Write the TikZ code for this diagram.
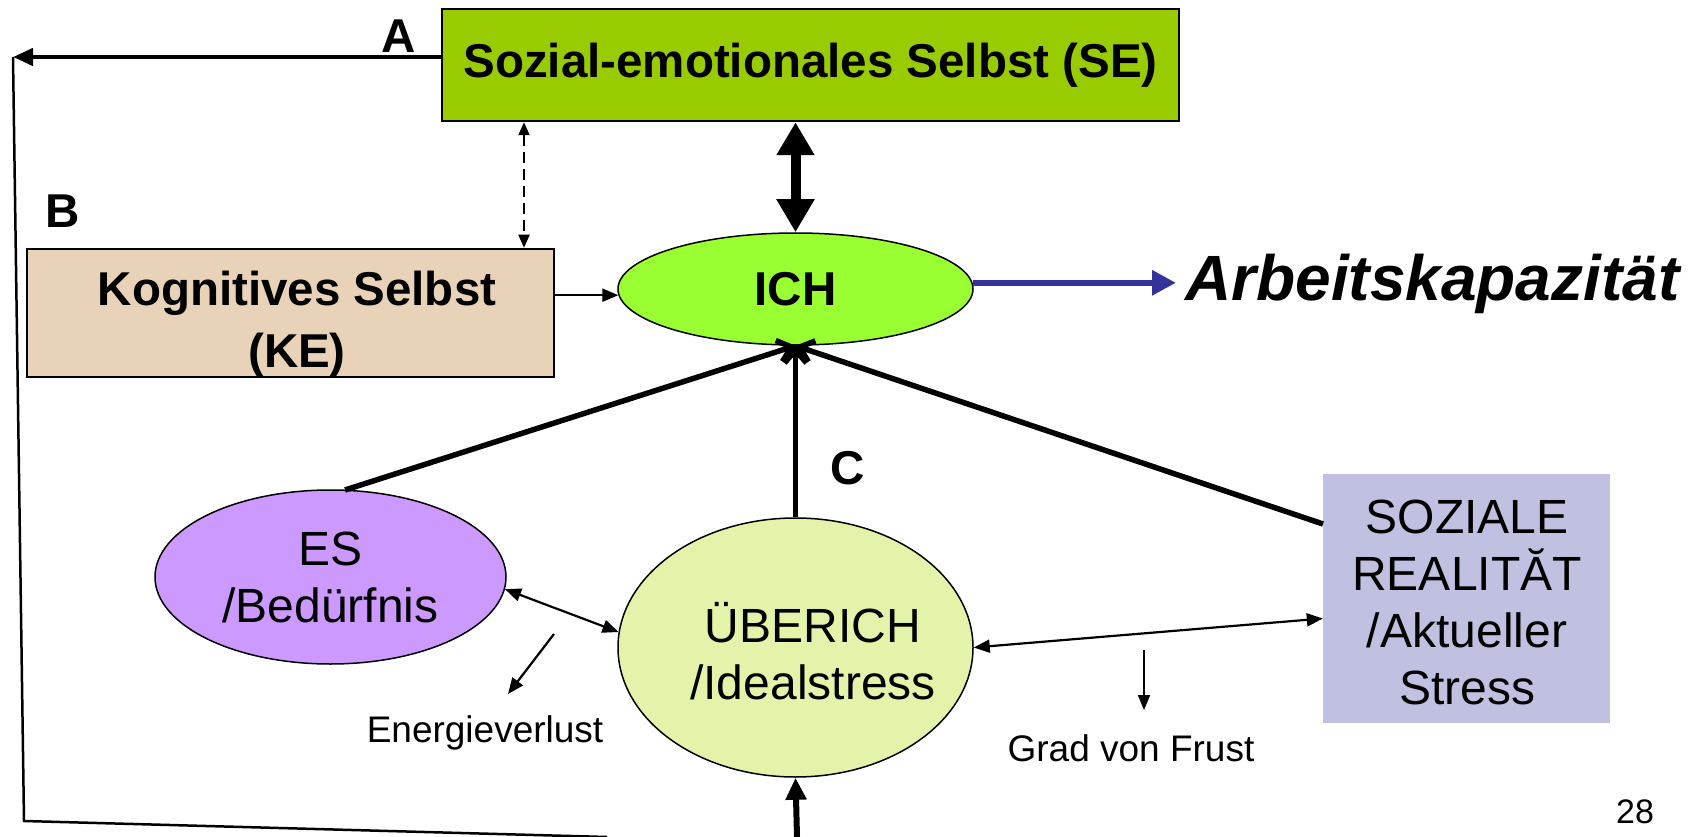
\documentclass[tikz,border=0pt]{standalone}
\usepackage{fontspec}
\setmainfont{Liberation Sans}
\usetikzlibrary{shapes.geometric,arrows.meta}
\definecolor{segreen}{HTML}{99CC00}
\definecolor{ketan}{HTML}{E8D3B9}
\definecolor{ichgreen}{HTML}{99FF33}
\definecolor{esviolet}{HTML}{CC99FF}
\definecolor{ubyellow}{HTML}{E3F4AA}
\definecolor{sozlav}{HTML}{C0C0E0}
\definecolor{akblue}{HTML}{333399}
\begin{document}
\begin{tikzpicture}[x=1pt,y=-1pt,
  boldfont/.style={font=\fontsize{47.5}{62}\selectfont\bfseries},
  plainfont/.style={font=\fontsize{48}{57}\selectfont},
  smallfont/.style={font=\fontsize{37}{44}\selectfont},
  selfbox/.style={draw, line width=2.5pt, rectangle, inner sep=0pt, align=center, boldfont},
  egg/.style={draw, line width=1.5pt, ellipse, inner sep=0pt, align=center},
  letter/.style={boldfont},
  thinarrow/.style={line width=2.2pt, -{Triangle[length=16pt,width=13pt]}},
  thindbl/.style={line width=2.2pt, {Triangle[length=16pt,width=13pt]}-{Triangle[length=16pt,width=13pt]}},
  intoich/.style={line width=5.5pt, -{Straight Barb[length=13pt,width=22pt]}},
]
\useasboundingbox (0,0) rectangle (1700,837);

% boxes and ellipses
\node[selfbox, fill=segreen, minimum width=737pt, minimum height=112pt] (SE) at (810.5,65) {Sozial-emotionales Selbst (SE)};
\node[selfbox, fill=ketan, minimum width=527pt, minimum height=128pt] (KE) at (290.5,313) {};
\node[boldfont, align=center, inner sep=0pt] (KEtext) at (297,324) {Kognitives Selbst\\(KE)};
\node[egg, fill=ichgreen, minimum width=355pt, minimum height=112pt, boldfont] (ICH) at (795.5,289) {ICH};
\node[egg, fill=esviolet, minimum width=351pt, minimum height=174pt, plainfont] (ES) at (330.5,577) {ES\\/Bedürfnis};
\node[egg, fill=ubyellow, minimum width=355pt, minimum height=259pt] (UB) at (795.5,647.5) {};
\node[plainfont, align=center, inner sep=0pt] (UBtext) at (813,651) {ÜBERICH\\/Idealstress};
\node[rectangle, fill=sozlav, minimum width=287pt, minimum height=249pt, inner sep=0pt, align=center, plainfont] (SOZ) at (1466.5,598.5) {};
\node[plainfont, align=center, inner sep=0pt] (SOZtext) at (1467,602) {SOZIALE\\REALITĂT\\/Aktueller\\Stress};

% free-standing texts
\node[font=\fontsize{64}{70}\selectfont\bfseries\itshape, anchor=west, inner sep=0pt] (AK) at (1185,284) {Arbeitskapazität};
\node[letter] (LA) at (399,36) {A};
\node[letter] (LB) at (63,211) {B};
\node[letter] (LC) at (848,468) {C};
\node[smallfont] (EV) at (485,733) {Energieverlust};
\node[smallfont] (GF) at (1131,748) {Grad von Frust};
\node[font=\fontsize{34}{40}\selectfont] (PG) at (1635,812) {28};

% helper points
\coordinate (dashx) at (524,0);
\coordinate (loopTL) at (13,57);
\coordinate (loopBL) at (24,821);
\coordinate (loopBR) at (607,837);
\coordinate (ubIn) at (797,837);
\coordinate (esTop) at (345,490);
\coordinate (sozIn) at (1323,524);
\coordinate (ev1) at (554,634);
\coordinate (ev2) at (508,694);
\coordinate (gf1) at (1144,650);
\coordinate (gf2) at (1144,710);

% SE <-> ICH and SE <-> KE
\draw[line width=10pt, {Triangle[length=33pt,width=36pt]}-{Triangle[length=33pt,width=36pt]}]
  (ICH.north |- SE.south) -- (ICH.north);
\draw[line width=2pt, dash pattern=on 11pt off 6pt, {Triangle[length=13pt,width=11pt]}-{Triangle[length=13pt,width=11pt]}]
  (dashx |- SE.south) -- (dashx |- KE.north);

% KE -> ICH, ICH -> Arbeitskapazitaet
\draw[thinarrow] (KE.east |- ICH.182) -- (ICH.182);
\draw[akblue, line width=6pt, -{Triangle[length=24pt,width=24pt]}]
  (ICH.2) -- ([xshift=-9pt]ICH.2 -| AK.west);

% converging lines into ICH
\draw[intoich] (esTop) -- (ICH.south);
\draw[intoich] (UB.north) -- (ICH.south);
\draw[intoich] (sozIn) -- (ICH.south);

% ES <-> UEBERICH <-> SOZIALE
\draw[thindbl] (ES.-4) -- (UB.175);
\draw[thindbl] (UB.east) -- ([yshift=-20pt]SOZ.west);

% side effects
\draw[thinarrow] (ev1) -- (ev2);
\draw[line width=1.8pt, -{Triangle[length=15pt,width=12pt]}] (gf1) -- (gf2);

% feedback loop from SE back to UEBERICH
\draw[line width=4.5pt, -{Triangle[length=20pt,width=17pt]}] (SE.west |- loopTL) -- (loopTL);
\draw[line width=2.5pt] (loopTL) -- (loopBL) -- (loopBR);
\draw[line width=6pt, -{Triangle[length=22pt,width=20pt]}] (ubIn) -- (UB.south);
\end{tikzpicture}
\end{document}
